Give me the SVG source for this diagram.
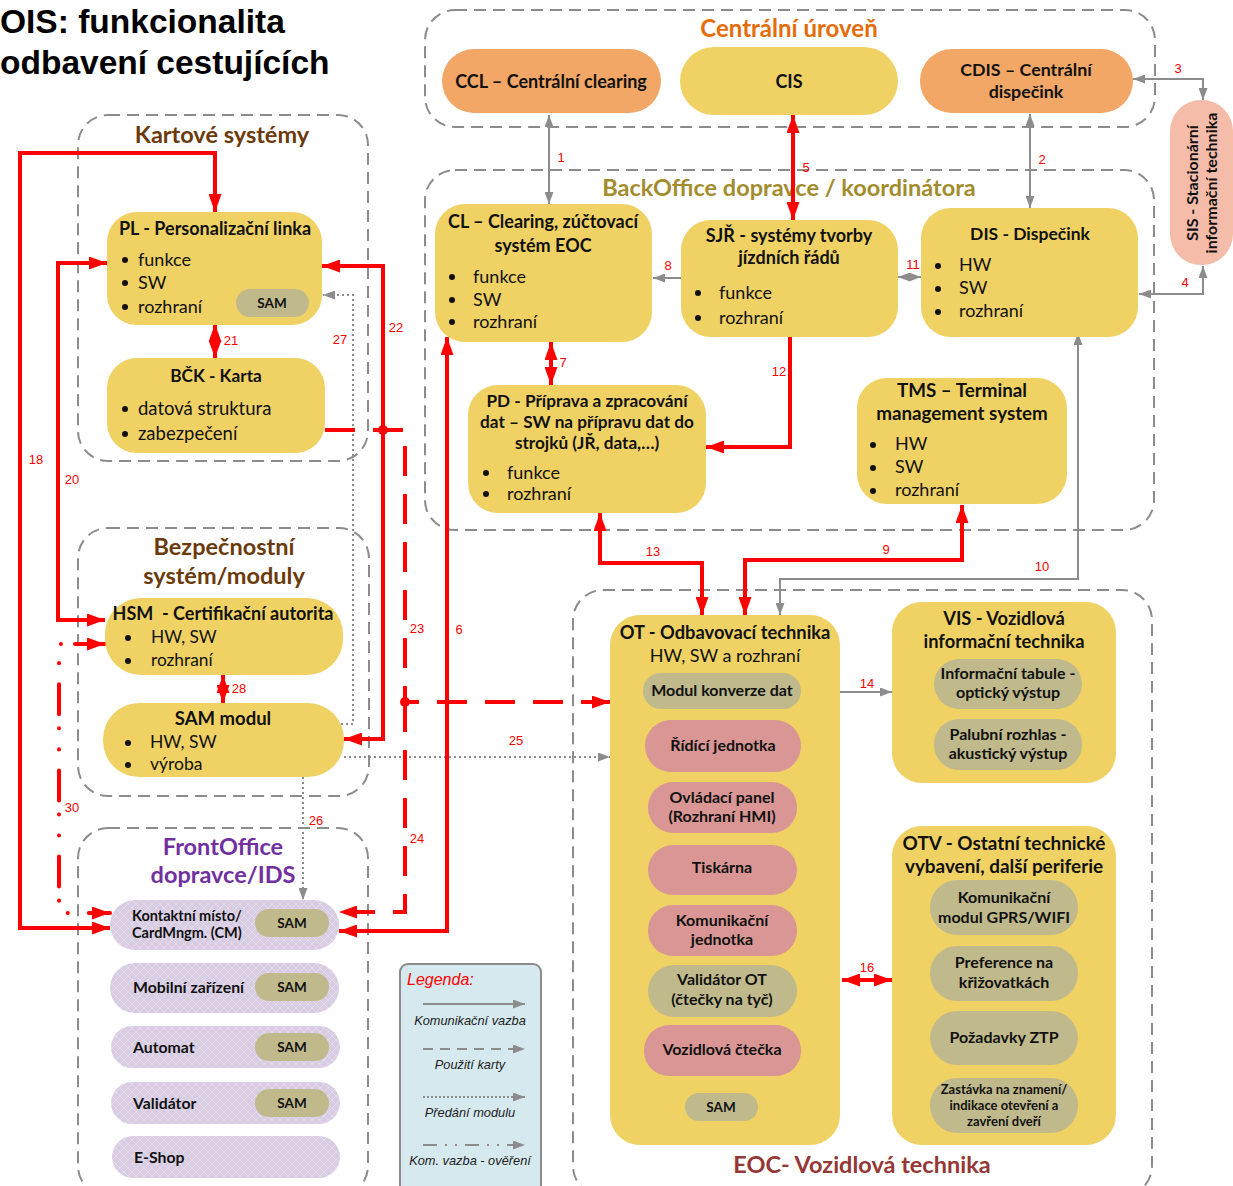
<svg xmlns="http://www.w3.org/2000/svg" width="1233" height="1186" viewBox="0 0 1233 1186">
<defs>
<style>
.grp{fill:none;stroke:#8c8c8c;stroke-width:2;stroke-dasharray:12,7}
.y{fill:#f0d264}
.o{fill:#c0b98b}
.p{fill:#d99694}
.or{fill:#f2a766}
.fo{fill:url(#hatch)}
.t{font-family:Lato,"Open Sans",sans-serif;font-weight:bold;font-size:18px;fill:#111;text-anchor:middle}
.ts{font-family:Lato,"Open Sans",sans-serif;font-weight:bold;font-size:15.8px;fill:#111}
.sam{font-family:Lato,"Open Sans",sans-serif;font-weight:bold;font-size:13.5px;fill:#111;text-anchor:middle}
.b{font-family:Lato,"Open Sans",sans-serif;font-size:18px;fill:#111}
.gt{font-family:Lato,"Open Sans",sans-serif;font-weight:bold;font-size:23.5px;text-anchor:middle}
.n{font-family:"Liberation Sans",Arial,sans-serif;font-size:13px;fill:#ff0000;text-anchor:middle}
.lg{font-family:"Liberation Sans",Arial,sans-serif;font-style:italic;font-size:12.8px;fill:#222;text-anchor:middle}
.gl{fill:none;stroke:#8c8c8c;stroke-width:2}
.gd{fill:none;stroke:#8c8c8c;stroke-width:2;stroke-dasharray:2,3}
.rl{fill:none;stroke:#ff0000;stroke-width:4}
.rd{fill:none;stroke:#ff0000;stroke-width:4;stroke-dasharray:30,18}
.rdd{fill:none;stroke:#ff0000;stroke-width:4;stroke-dasharray:30,14,0.1,21,0.1,21;stroke-linecap:round}
.ga{marker-end:url(#ga)}
.ga2{marker-start:url(#ga);marker-end:url(#ga)}
.ra{marker-end:url(#ra)}
.ra2{marker-start:url(#ra);marker-end:url(#ra)}
.s16{font-size:16px}
</style>
<marker id="ga" markerUnits="userSpaceOnUse" markerWidth="12" markerHeight="9" refX="12" refY="4.5" orient="auto-start-reverse"><path d="M0,0 L12,4.5 L0,9 z" fill="#8c8c8c"/></marker>
<marker id="ra" markerUnits="userSpaceOnUse" markerWidth="18" markerHeight="13" refX="18" refY="6.5" orient="auto-start-reverse"><path d="M0,0 L18,6.5 L0,13 z" fill="#ff0000"/></marker>
<pattern id="hatch" patternUnits="userSpaceOnUse" width="8" height="8"><rect width="8" height="8" fill="#d8cce3"/><path d="M0,0 L8,8 M8,0 L0,8" stroke="#e3dbeb" stroke-width="1"/></pattern>
</defs>
<rect width="1233" height="1186" fill="#ffffff"/>

<g id="title">
<text x="0" y="33" font-family="'Liberation Sans',Arial,sans-serif" font-weight="bold" font-size="33.5" fill="#000">OIS: funkcionalita</text>
<text x="0" y="74" font-family="'Liberation Sans',Arial,sans-serif" font-weight="bold" font-size="33.5" fill="#000">odbavení cestujících</text>
</g>

<g id="groups">
<g id="g-kartove"><rect class="grp" x="78" y="115" width="290" height="346" rx="30"/><text class="gt" x="222" y="143" fill="#6b3a0a">Kartové systémy</text></g>
<g id="g-centralni"><rect class="grp" x="425" y="10" width="730" height="117" rx="30"/><text class="gt" x="789" y="37" fill="#e46c0a" style="font-size:24px">Centrální úroveň</text></g>
<g id="g-backoffice"><rect class="grp" x="425" y="170" width="729" height="360" rx="30"/><text class="gt" x="789" y="196" fill="#a38c2e">BackOffice dopravce / koordinátora</text></g>
<g id="g-bezpecnost"><rect class="grp" x="78" y="528" width="291" height="268" rx="30"/><text class="gt" x="224" y="555" fill="#6b3a0a">Bezpečnostní</text><text class="gt" x="224" y="584" fill="#6b3a0a">systém/moduly</text></g>
<g id="g-frontoffice"><rect class="grp" x="78" y="828" width="290" height="368" rx="30"/><text class="gt" x="223" y="855" fill="#7030a0">FrontOffice</text><text class="gt" x="223" y="883" fill="#7030a0">dopravce/IDS</text></g>
<g id="g-eoc"><rect class="grp" x="573" y="590" width="579" height="606" rx="30"/><text class="gt" x="862" y="1173" fill="#953735">EOC- Vozidlová technika</text></g>
</g>

<g id="connectors">
<path id="c1" class="gl ga2" d="M549,115 V204"/>
<path id="c2" class="gl ga2" d="M1030,114 V208"/>
<path id="c3" class="gl ga2" d="M1133,79 H1203 V100"/>
<path id="c4" class="gl ga2" d="M1139,294 H1203 V266"/>
<path id="c8" class="gl ga" d="M681,278 H653"/>
<path id="c11" class="gl ga2" d="M898,277 H921"/>
<path id="c10" class="gl ga2" d="M1078,333 V579 H780 V615"/>
<path id="c14" class="gl ga" d="M840,692 H892"/>
<path id="c25" class="gd ga" d="M344,757 H610"/>
<path id="c27" class="gd ga" d="M341,724 H353 V295 H323"/>
<path id="c26" class="gd ga" d="M303,777 V900"/>
<path id="c5" class="rl ra2" d="M793,115 V220"/>
<path id="c7" class="rl ra2" d="M551,342 V385"/>
<path id="c12" class="rl ra" d="M790,337 V447 H706"/>
<path id="c13" class="rl ra2" d="M600,513 V563 H702 V615"/>
<path id="c9" class="rl ra2" d="M745,615 V560 H962 V505"/>
<path id="c6" class="rl ra2" d="M339,931 H447 V337"/>
<path id="c22" class="rl ra2" d="M322,266 H383 V739 H344"/>
<path id="c21" class="rl ra2" d="M215,324 V358"/>
<path id="c28" class="rl ra2" d="M223,675 V703"/>
<path id="c18" class="rl ra2" d="M110,928 H20 V153 H215 V212"/>
<path id="c20" class="rl ra2" d="M107,263 H58 V620 H105"/>
<path id="c16" class="rl ra2" d="M842,980 H892"/>
<path id="c23" class="rd ra" d="M325,430 H405 V702 H610"/>
<path id="c24" class="rd ra" d="M405,702 V912 H339"/>
<path id="c30" class="rdd ra2" d="M105,644 H59 V913 H110"/>
<circle cx="383" cy="430" r="5" fill="#ff0000"/>
<circle cx="405" cy="702" r="5" fill="#ff0000"/>
<g id="labels">
<text class="n" x="561" y="162">1</text>
<text class="n" x="1042" y="164">2</text>
<text class="n" x="1178" y="73">3</text>
<text class="n" x="1185" y="287">4</text>
<text class="n" x="806" y="172">5</text>
<text class="n" x="459" y="634">6</text>
<text class="n" x="563" y="367">7</text>
<text class="n" x="668" y="270">8</text>
<text class="n" x="886" y="554">9</text>
<text class="n" x="1042" y="571">10</text>
<text class="n" x="913" y="269">11</text>
<text class="n" x="779" y="376">12</text>
<text class="n" x="653" y="556">13</text>
<text class="n" x="867" y="688">14</text>
<text class="n" x="867" y="972">16</text>
<text class="n" x="36" y="464">18</text>
<text class="n" x="72" y="484">20</text>
<text class="n" x="231" y="345">21</text>
<text class="n" x="396" y="332">22</text>
<text class="n" x="417" y="633">23</text>
<text class="n" x="417" y="843">24</text>
<text class="n" x="516" y="745">25</text>
<text class="n" x="316" y="825">26</text>
<text class="n" x="340" y="344">27</text>
<text class="n" x="239" y="693">28</text>
<text class="n" x="72" y="812">30</text>
</g>
</g>

<g id="ccl"><rect class="or" x="442" y="49" width="219" height="64" rx="32"/><text class="t" x="551" y="88">CCL – Centrální clearing</text></g>
<g id="cis"><rect class="y" x="680" y="47" width="218" height="68" rx="34"/><text class="t" x="789" y="88">CIS</text></g>
<g id="cdis"><rect class="or" x="920" y="49" width="213" height="64" rx="32"/><text class="t" x="1026" y="76" style="font-size:17.8px">CDIS – Centrální</text><text class="t" x="1026" y="98" style="font-size:17.8px">dispečink</text></g>
<g id="sis"><rect x="1170" y="100" width="63" height="165" rx="31" fill="#f4bca9"/>
<text class="t s16" transform="translate(1198,183) rotate(-90)">SIS - Stacionární</text>
<text class="t s16" transform="translate(1217,183) rotate(-90)">informační technika</text></g>

<g id="cl"><rect class="y" x="435" y="204" width="217" height="138" rx="30"/>
<text class="t" x="543" y="228">CL – Clearing, zúčtovací</text><text class="t" x="543" y="252">systém EOC</text>
<circle cx="452" cy="277" r="3" fill="#111"/><text class="b" x="473" y="283">funkce</text>
<circle cx="452" cy="300" r="3" fill="#111"/><text class="b" x="473" y="306">SW</text>
<circle cx="452" cy="322" r="3" fill="#111"/><text class="b" x="473" y="328">rozhraní</text></g>

<g id="sjr"><rect class="y" x="681" y="220" width="217" height="117" rx="30"/>
<text class="t" x="789" y="242">SJŘ - systémy tvorby</text><text class="t" x="789" y="264">jízdních řádů</text>
<circle cx="698" cy="293" r="3" fill="#111"/><text class="b" x="719" y="299">funkce</text>
<circle cx="698" cy="318" r="3" fill="#111"/><text class="b" x="719" y="324">rozhraní</text></g>

<g id="dis"><rect class="y" x="921" y="208" width="217" height="129" rx="30"/>
<text class="t" x="1030" y="240" style="font-size:17.5px">DIS - Dispečink</text>
<circle cx="938" cy="266" r="3" fill="#111"/><text class="b" x="959" y="271">HW</text>
<circle cx="938" cy="289" r="3" fill="#111"/><text class="b" x="959" y="294">SW</text>
<circle cx="938" cy="312" r="3" fill="#111"/><text class="b" x="959" y="317">rozhraní</text></g>

<g id="pd"><rect class="y" x="468" y="385" width="238" height="128" rx="30"/>
<text class="t" x="587" y="407" style="font-size:17.2px">PD - Příprava a zpracování</text>
<text class="t" x="587" y="428" style="font-size:17.2px">dat – SW na přípravu dat do</text>
<text class="t" x="587" y="449" style="font-size:17.2px">strojků (JŘ, data,…)</text>
<circle cx="486" cy="473" r="3" fill="#111"/><text class="b" x="507" y="479">funkce</text>
<circle cx="486" cy="494" r="3" fill="#111"/><text class="b" x="507" y="500">rozhraní</text></g>

<g id="tms"><rect class="y" x="857" y="378" width="210" height="126" rx="30"/>
<text class="t" x="962" y="397" style="font-size:18.8px">TMS – Terminal</text><text class="t" x="962" y="420" style="font-size:18.8px">management system</text>
<circle cx="873" cy="445" r="3" fill="#111"/><text class="b" x="895" y="450">HW</text>
<circle cx="873" cy="468" r="3" fill="#111"/><text class="b" x="895" y="473">SW</text>
<circle cx="873" cy="491" r="3" fill="#111"/><text class="b" x="895" y="496">rozhraní</text></g>

<g id="pl"><rect class="y" x="107" y="212" width="215" height="113" rx="30"/>
<text class="t" x="215" y="235">PL - Personalizační linka</text>
<circle cx="125" cy="260" r="3" fill="#111"/><text class="b" x="138" y="266">funkce</text>
<circle cx="125" cy="283" r="3" fill="#111"/><text class="b" x="138" y="289">SW</text>
<circle cx="125" cy="307" r="3" fill="#111"/><text class="b" x="138" y="313">rozhraní</text>
<rect class="o" x="236" y="289" width="73" height="28" rx="14"/><text class="sam" x="272" y="308">SAM</text></g>

<g id="bck"><rect class="y" x="107" y="358" width="218" height="95" rx="30"/>
<text class="t" x="216" y="382" style="font-size:17.3px">BČK - Karta</text>
<circle cx="125" cy="409" r="3" fill="#111"/><text class="b" x="138" y="415" style="font-size:18.5px">datová struktura</text>
<circle cx="125" cy="434" r="3" fill="#111"/><text class="b" x="138" y="440" style="font-size:18.5px">zabezpečení</text></g>

<g id="hsm"><rect class="y" x="105" y="598" width="238" height="77" rx="36"/>
<text class="t" x="223" y="620" xml:space="preserve">HSM  - Certifikační autorita</text>
<circle cx="128" cy="638" r="3" fill="#111"/><text class="b" x="151" y="643" style="font-size:17.3px">HW, SW</text>
<circle cx="128" cy="661" r="3" fill="#111"/><text class="b" x="151" y="666" style="font-size:17.3px">rozhraní</text></g>

<g id="sammodul"><rect class="y" x="103" y="703" width="241" height="74" rx="36"/>
<text class="t" x="223" y="725" style="font-size:18.5px">SAM modul</text>
<circle cx="128" cy="743" r="3" fill="#111"/><text class="b" x="150" y="748" style="font-size:17.5px">HW, SW</text>
<circle cx="128" cy="765" r="3" fill="#111"/><text class="b" x="150" y="770" style="font-size:17.5px">výroba</text></g>

<g id="kontaktni"><rect class="fo" x="110" y="900" width="229" height="50" rx="25"/>
<text class="ts" x="132" y="921" style="font-size:14.5px">Kontaktní místo/</text><text class="ts" x="132" y="938" style="font-size:14.5px">CardMngm. (CM)</text>
<rect class="o" x="255" y="909" width="74" height="28" rx="14"/><text class="sam" x="292" y="928">SAM</text></g>
<g id="mobilni"><rect class="fo" x="110" y="963" width="229" height="50" rx="25"/>
<text class="ts" x="133" y="993">Mobilní zařízení</text>
<rect class="o" x="255" y="973" width="74" height="28" rx="14"/><text class="sam" x="292" y="992">SAM</text></g>
<g id="automat"><rect class="fo" x="111" y="1026" width="229" height="42" rx="21"/>
<text class="ts" x="133" y="1053">Automat</text>
<rect class="o" x="255" y="1033" width="74" height="28" rx="14"/><text class="sam" x="292" y="1052">SAM</text></g>
<g id="validator"><rect class="fo" x="111" y="1082" width="229" height="42" rx="21"/>
<text class="ts" x="133" y="1109">Validátor</text>
<rect class="o" x="255" y="1089" width="74" height="28" rx="14"/><text class="sam" x="292" y="1108">SAM</text></g>
<g id="eshop"><rect class="fo" x="112" y="1136" width="228" height="42" rx="21"/>
<text class="ts" x="134" y="1163">E-Shop</text></g>

<g id="legend"><rect x="400" y="964" width="141" height="230" rx="8" fill="#d5e9ef" stroke="#8c8c8c" stroke-width="2"/>
<text x="407" y="985" font-family="'Liberation Sans',Arial,sans-serif" font-style="italic" font-size="16" fill="#ff0000">Legenda:</text>
<path class="gl ga" d="M423,1004 H525"/><text class="lg" x="470" y="1025">Komunikační vazba</text>
<path class="gl ga" d="M423,1049 H525" style="stroke-dasharray:10,7"/><text class="lg" x="470" y="1069">Použití karty</text>
<path class="gl ga" d="M423,1097 H525" style="stroke-dasharray:2,2"/><text class="lg" x="470" y="1117">Předání modulu</text>
<path class="gl ga" d="M423,1145 H525" style="stroke-dasharray:14,8,2,8,2,8"/><text class="lg" x="470" y="1165">Kom. vazba - ověření</text></g>

<g id="ot"><rect class="y" x="610" y="615" width="230" height="530" rx="30"/>
<text class="t" x="725" y="639" style="font-size:18.3px">OT - Odbavovací technika</text>
<text class="b" x="725" y="662" text-anchor="middle">HW, SW a rozhraní</text>
<g id="ot-modul"><rect class="o" x="643" y="673" width="158" height="36" rx="18"/><text class="t s16" x="722" y="696">Modul konverze dat</text></g>
<g id="ot-ridici"><rect class="p" x="645" y="720" width="156" height="52" rx="26"/><text class="t s16" x="723" y="751">Řídící jednotka</text></g>
<g id="ot-ovladaci"><rect class="p" x="648" y="782" width="149" height="51" rx="25"/><text class="t s16" x="722" y="803">Ovládací panel</text><text class="t s16" x="722" y="822">(Rozhraní HMI)</text></g>
<g id="ot-tiskarna"><rect class="p" x="648" y="845" width="149" height="50" rx="25"/><text class="t s16" x="722" y="873">Tiskárna</text></g>
<g id="ot-komunikacni"><rect class="p" x="648" y="905" width="149" height="51" rx="25"/><text class="t s16" x="722" y="926">Komunikační</text><text class="t s16" x="722" y="945">jednotka</text></g>
<g id="ot-validator"><rect class="o" x="648" y="965" width="149" height="52" rx="26"/><text class="t s16" x="722" y="985">Validátor OT</text><text class="t s16" x="722" y="1005">(čtečky na tyč)</text></g>
<g id="ot-ctecka"><rect class="p" x="644" y="1025" width="157" height="51" rx="25"/><text class="t s16" x="722" y="1055">Vozidlová čtečka</text></g>
<g id="ot-sam"><rect class="o" x="685" y="1093" width="73" height="28" rx="14"/><text class="sam" x="721" y="1112">SAM</text></g>
</g>

<g id="vis"><rect class="y" x="892" y="602" width="224" height="181" rx="30"/>
<text class="t" x="1004" y="625" style="font-size:18.3px">VIS - Vozidlová</text><text class="t" x="1004" y="648" style="font-size:18.3px">informační technika</text>
<g id="vis-tabule"><rect class="o" x="934" y="659" width="148" height="50" rx="25"/><text class="t s16" x="1008" y="679">Informační tabule -</text><text class="t s16" x="1008" y="698">optický výstup</text></g>
<g id="vis-rozhlas"><rect class="o" x="934" y="719" width="148" height="51" rx="25"/><text class="t s16" x="1008" y="740">Palubní rozhlas -</text><text class="t s16" x="1008" y="759">akustický výstup</text></g>
</g>

<g id="otv"><rect class="y" x="892" y="826" width="224" height="319" rx="30"/>
<text class="t" x="1004" y="850" style="font-size:18.9px">OTV - Ostatní technické</text><text class="t" x="1004" y="873" style="font-size:18.9px">vybavení, další periferie</text>
<g id="otv-gprs"><rect class="o" x="930" y="880" width="148" height="55" rx="27"/><text class="t s16" x="1004" y="903">Komunikační</text><text class="t s16" x="1004" y="923">modul GPRS/WIFI</text></g>
<g id="otv-pref"><rect class="o" x="930" y="946" width="148" height="55" rx="27"/><text class="t s16" x="1004" y="968">Preference na</text><text class="t s16" x="1004" y="988">křižovatkách</text></g>
<g id="otv-ztp"><rect class="o" x="930" y="1011" width="148" height="54" rx="27"/><text class="t s16" x="1004" y="1043">Požadavky ZTP</text></g>
<g id="otv-zastavka"><rect class="o" x="930" y="1078" width="148" height="55" rx="27"/><text class="t" x="1004" y="1094" style="font-size:13px">Zastávka na znamení/</text><text class="t" x="1004" y="1110" style="font-size:13px">indikace otevření a</text><text class="t" x="1004" y="1126" style="font-size:13px">zavření dveří</text></g>
</g>
</svg>
